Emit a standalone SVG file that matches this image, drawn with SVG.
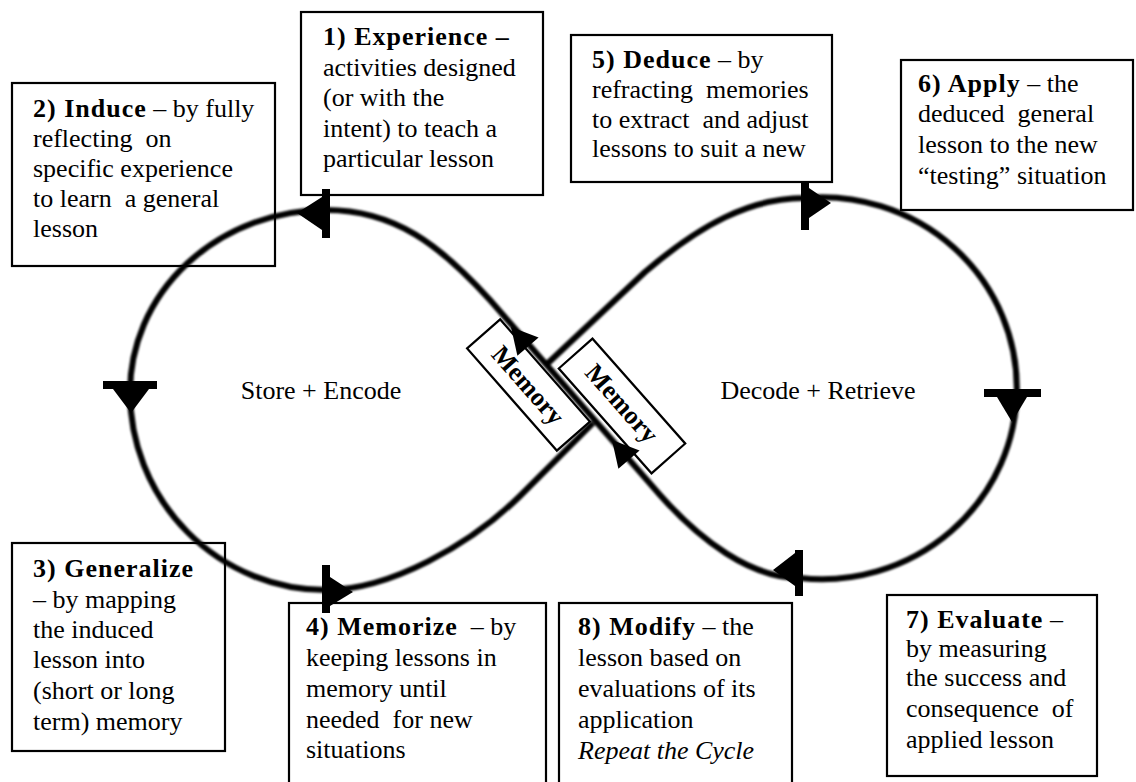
<svg xmlns="http://www.w3.org/2000/svg" width="1136" height="782" viewBox="0 0 1136 782">
<style>
  .box { fill: #fff; stroke: #000; stroke-width: 2.2; }
  .txt { font-family: "Liberation Serif", "Times New Roman", serif; font-size: 26px; fill: #000; }
  .bold { font-weight: bold; letter-spacing: 1px; }
  .ital { font-style: italic; }
  .loop { fill: none; stroke: #000; stroke-width: 6; stroke-linejoin: round; }
  .mk { fill: #000; }
  .mem { font-family: "Liberation Serif", "Times New Roman", serif; font-size: 26px; font-weight: bold; text-anchor: middle; }
</style>
<defs>
  <filter id="soft" x="-5%" y="-5%" width="110%" height="110%">
    <feGaussianBlur stdDeviation="1.3"/>
  </filter>
</defs>
<rect width="1136" height="782" fill="#fff"/>

<g id="node-1">
  <rect class="box" x="301" y="12" width="242" height="183"/>
  <text class="txt" x="323" y="45"><tspan class="bold">1) Experience –</tspan></text>
  <text class="txt" x="323" y="75.5">activities designed</text>
  <text class="txt" x="323" y="106">(or with the</text>
  <text class="txt" x="323" y="136.5">intent) to teach a</text>
  <text class="txt" x="323" y="167">particular lesson</text>
</g>
<g id="node-2">
  <rect class="box" x="12" y="83" width="263" height="183"/>
  <text class="txt" x="33" y="117"><tspan class="bold">2) Induce</tspan> – by fully</text>
  <text class="txt" x="33" y="147" xml:space="preserve">reflecting  on</text>
  <text class="txt" x="33" y="177">specific experience</text>
  <text class="txt" x="33" y="207" xml:space="preserve">to learn  a general</text>
  <text class="txt" x="33" y="237">lesson</text>
</g>
<g id="node-3">
  <rect class="box" x="12" y="543" width="213" height="208"/>
  <text class="txt" x="33" y="577"><tspan class="bold">3) Generalize</tspan></text>
  <text class="txt" x="33" y="608">– by mapping</text>
  <text class="txt" x="33" y="638">the induced</text>
  <text class="txt" x="33" y="668">lesson into</text>
  <text class="txt" x="33" y="699">(short or long</text>
  <text class="txt" x="33" y="730">term) memory</text>
</g>
<g id="node-4">
  <rect class="box" x="289" y="603" width="257" height="190"/>
  <text class="txt" x="306" y="635" xml:space="preserve"><tspan class="bold">4) Memorize</tspan>  – by</text>
  <text class="txt" x="306" y="666">keeping lessons in</text>
  <text class="txt" x="306" y="697">memory until</text>
  <text class="txt" x="306" y="728" xml:space="preserve">needed  for new</text>
  <text class="txt" x="306" y="758">situations</text>
</g>
<g id="node-5">
  <rect class="box" x="571" y="35" width="261" height="147"/>
  <text class="txt" x="592" y="68"><tspan class="bold">5) Deduce</tspan> – by</text>
  <text class="txt" x="592" y="98" xml:space="preserve">refracting  memories</text>
  <text class="txt" x="592" y="128" xml:space="preserve">to extract  and adjust</text>
  <text class="txt" x="592" y="157">lessons to suit a new</text>
</g>
<g id="node-6">
  <rect class="box" x="901" y="60" width="232" height="150"/>
  <text class="txt" x="918" y="92"><tspan class="bold">6) Apply</tspan> – the</text>
  <text class="txt" x="918" y="122" xml:space="preserve">deduced  general</text>
  <text class="txt" x="918" y="153">lesson to the new</text>
  <text class="txt" x="918" y="184">“testing” situation</text>
</g>
<g id="node-7">
  <rect class="box" x="887" y="595" width="210" height="181"/>
  <text class="txt" x="906" y="628"><tspan class="bold">7) Evaluate</tspan> –</text>
  <text class="txt" x="906" y="657">by measuring</text>
  <text class="txt" x="906" y="686">the success and</text>
  <text class="txt" x="906" y="717" xml:space="preserve">consequence  of</text>
  <text class="txt" x="906" y="748">applied lesson</text>
</g>
<g id="node-8">
  <rect class="box" x="559" y="603" width="233" height="190"/>
  <text class="txt" x="578" y="635"><tspan class="bold">8) Modify</tspan> – the</text>
  <text class="txt" x="578" y="666">lesson based on</text>
  <text class="txt" x="578" y="697">evaluations of its</text>
  <text class="txt" x="578" y="728">application</text>
  <text class="txt ital" x="578" y="759">Repeat the Cycle</text>
</g>

<g id="labels">
  <text class="txt" x="321" y="399" text-anchor="middle">Store + Encode</text>
  <text class="txt" x="818" y="399" text-anchor="middle">Decode + Retrieve</text>
</g>

<g id="connectors">
  <g filter="url(#soft)">
    <path class="loop" d="M 326,210 C 395,210 440,245 490,300 L 660,495 C 700,540 750,578 800,578"/>
    <path class="loop" d="M 326,210 A 196,182 0 0 0 130,392 A 196,198 0 0 0 326,590 C 390,590 470,545 520,496 L 593,423"/>
    <path class="loop" d="M 800,578 A 195,191 0 1 0 804,198 C 750,198 700,225 645,272 L 547,364"/>
  </g>
  <rect class="mk" x="322" y="189" width="8" height="49"/>
  <polygon class="mk" points="322,197 322,230 297,213"/>
  <rect class="mk" x="103" y="381" width="54" height="8"/>
  <polygon class="mk" points="113,389 149,389 131,413"/>
  <rect class="mk" x="322" y="565" width="8" height="48"/>
  <polygon class="mk" points="330,577 330,606 353,592"/>
  <rect class="mk" x="801" y="182" width="8" height="48"/>
  <polygon class="mk" points="809,188 809,218 831,203"/>
  <rect class="mk" x="984" y="389" width="57" height="8"/>
  <polygon class="mk" points="997,397 1027,397 1012,422"/>
  <rect class="mk" x="795" y="550" width="8" height="46"/>
  <polygon class="mk" points="795,553 795,586 773,570"/>
</g>

<g id="memory-left">
  <g transform="translate(528.5,385) rotate(48.7)">
    <rect class="box" x="-68" y="-22" width="136" height="44"/>
    <text class="mem" x="0" y="9">Memory</text>
  </g>
</g>
<g id="memory-right">
  <g transform="translate(622,406) rotate(48.5)">
    <rect class="box" x="-70" y="-22.5" width="140" height="45"/>
    <text class="mem" x="-2" y="7">Memory</text>
  </g>
</g>
<g id="memory-arrows">
  <polygon class="mk" points="511,327 538.6,337.4 517.4,355.8"/>
  <polygon class="mk" points="612,440 639.6,450.4 618.4,468.8"/>
</g>
</svg>
